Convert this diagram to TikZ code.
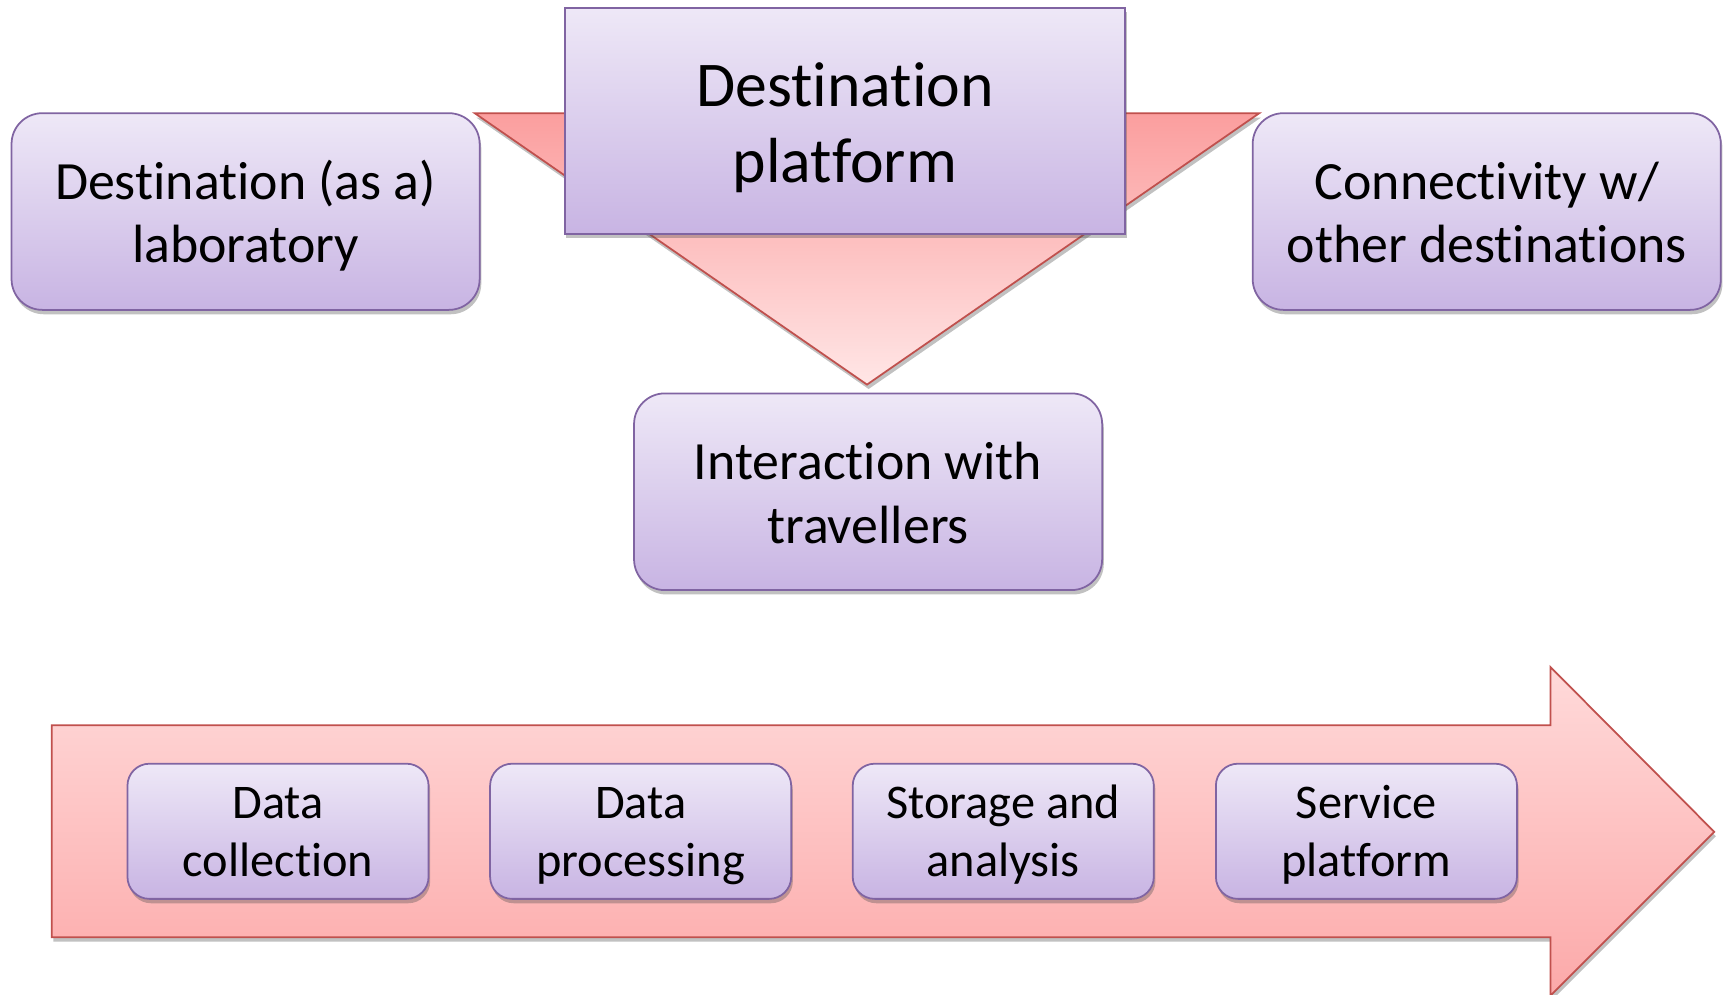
\documentclass[tikz,border=0pt]{standalone}
\usepackage{fontspec}
\setmainfont[Ligatures=NoCommon]{Carlito}
\usetikzlibrary{shadows}
\definecolor{pborder}{HTML}{8064A2}
\definecolor{ptop}{HTML}{EEE8F7}
\definecolor{pbot}{HTML}{C8B4E3}
\definecolor{rborder}{HTML}{C0504D}
\definecolor{tritop}{HTML}{FB9E9E}
\definecolor{tribot}{HTML}{FFE6E6}
\definecolor{arrtop}{HTML}{FFDADA}
\definecolor{arrbot}{HTML}{FCA9A9}
\newcommand\topst[1]{\rule{0pt}{#1pt}}
\tikzset{
  shad/.style={drop shadow={shadow xshift=1.5pt,shadow yshift=-4pt,opacity=0.35,fill=black!70}},
  pbox/.style={draw=pborder,line width=1.6pt,top color=ptop,bottom color=pbot,
    rounded corners=28pt,inner sep=0pt,align=center,shad},
  bigbox/.style={pbox,minimum width=426pt,minimum height=179pt,font=\fontsize{49}{58}\selectfont},
  smallbox/.style={pbox,rounded corners=20pt,minimum width=274pt,minimum height=123pt,font=\fontsize{44}{53}\selectfont},
  rshape/.style={draw=rborder,line width=1.6pt}
}
\begin{document}
\begin{tikzpicture}[x=1pt,y=-1pt]
\useasboundingbox (0,0) rectangle (1568,905);
% triangle behind the center box
\coordinate (tl) at (432,103);
\coordinate (tr) at (1146,103);
\coordinate (tb) at (789,350);
\path[rshape,top color=tritop,bottom color=tribot,shad] (tl) -- (tr) -- (tb) -- cycle;
% top boxes
\node[pbox,rounded corners=0pt,minimum width=510pt,minimum height=206pt,
  font=\fontsize{58}{69}\selectfont] (dp) at (769,110) {\topst{64}Destination\\platform\strut};
\node[bigbox] (lab) at (223.5,192.5) {\topst{53}Destination (as a)\\laboratory\strut};
\node[bigbox] (con) at (1353,192.5) {\topst{53}Connectivity w/\\other destinations\strut};
\node[bigbox] (int) at (790,447.5) {\topst{53}Interaction with\\travellers\strut};
% big arrow
\coordinate (a1) at (47,660);
\coordinate (a2) at (1411,660);
\coordinate (a3) at (1411,607);
\coordinate (a4) at (1560,757);
\coordinate (a5) at (1411,906);
\coordinate (a6) at (1411,853);
\coordinate (a7) at (47,853);
\path[rshape,top color=arrtop,bottom color=arrbot,shad]
  (a1) -- (a2) -- (a3) -- (a4) -- (a5) -- (a6) -- (a7) -- cycle;
% steps
\node[smallbox] (s1) at (253,756.5) {\topst{46}Data\\collection\strut};
\node[smallbox] (s2) at (583,756.5) {\topst{46}Data\\processing\strut};
\node[smallbox] (s3) at (913,756.5) {\topst{46}Storage and\\analysis\strut};
\node[smallbox] (s4) at (1243.5,756.5) {\topst{46}Service\\platform\strut};
\end{tikzpicture}
\end{document}
